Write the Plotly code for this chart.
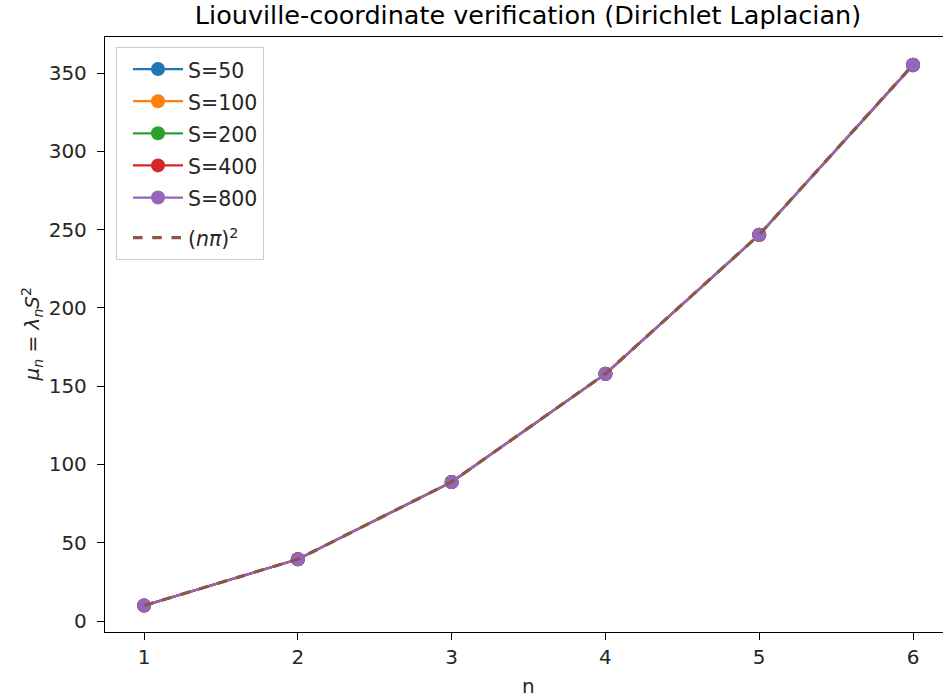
import plotly.graph_objects as go

n_vals = [1, 2, 3, 4, 5, 6]
series_names = ["S=50", "S=100", "S=200", "S=400", "S=800"]
mu_S50 = [9.87, 39.47, 88.80, 157.82, 246.55, 354.85]
mu_S100 = [9.87, 39.48, 88.82, 157.88, 246.68, 355.18]
mu_S200 = [9.87, 39.48, 88.83, 157.90, 246.72, 355.27]
mu_S400 = [9.87, 39.48, 88.83, 157.91, 246.73, 355.30]
mu_S800 = [9.87, 39.48, 88.83, 157.91, 246.74, 355.30]
exact_label = "(<i>nπ</i>)<sup>2</sup>"
exact_vals = [9.87, 39.48, 88.83, 157.91, 246.74, 355.31]
y_ticks = [0, 50, 100, 150, 200, 250, 300, 350]

colors = ["#1f77b4", "#ff7f0e", "#2ca02c", "#d62728", "#9467bd"]
exact_color = "#8c564b"


def lg(txt):
    return "<span style='font-size:20.5px'>" + txt + "</span>"


fig = go.Figure()
for name, vals, c in zip(series_names, [mu_S50, mu_S100, mu_S200, mu_S400, mu_S800], colors):
    fig.add_trace(go.Scatter(x=n_vals, y=vals, mode="lines+markers", name=lg(name),
                             legendgroup="s",
                             line=dict(color=c, width=2.2),
                             marker=dict(color=c, size=14)))
fig.add_trace(go.Scatter(x=n_vals, y=exact_vals, mode="lines", name=lg(exact_label),
                         legendgroup="e",
                         line=dict(color=exact_color, width=3.2, dash="dash")))

font = "DejaVu Sans"
fig.update_layout(
    width=943, height=698,
    margin=dict(l=105, r=0, t=37, b=66),
    paper_bgcolor="white", plot_bgcolor="white",
    font=dict(family=font, size=20, color="#262626"),
    title=dict(text="Liouville-coordinate verification (Dirichlet Laplacian)",
               x=528/943, xanchor="center", y=1-15/698, yanchor="middle",
               font=dict(size=25.5, color="black")),
    showlegend=True,
    legend=dict(x=(116-105)/838, y=1-(47-37)/595, xanchor="left", yanchor="top",
                bgcolor="rgba(255,255,255,0.8)", bordercolor="#cccccc", borderwidth=1,
                font=dict(size=22.4, color="#262626"), itemwidth=50, indentation=11,
                tracegroupgap=8),
    annotations=[
        dict(text="<i>μ<sub>n</sub></i> = <i>λ<sub>n</sub>S</i><sup>2</sup>", textangle=-90,
             xref="paper", yref="paper", x=-73/838, y=0.5, xanchor="center", yanchor="middle",
             showarrow=False, font=dict(size=20, color="#262626")),
        dict(text="n", xref="paper", yref="paper", x=(528-105)/838, y=-54/595,
             xanchor="center", yanchor="middle", showarrow=False,
             font=dict(size=20, color="#262626")),
    ],
)
fig.update_xaxes(range=[0.746, 6.195], tickvals=n_vals, ticktext=[str(v) for v in n_vals],
                 showgrid=False, zeroline=False, showline=True, linecolor="black", linewidth=1.3,
                 mirror=True, ticks="outside", ticklen=7, tickwidth=1.3, tickcolor="black",
                 automargin=False, tickfont=dict(size=20, color="#262626"))
fig.update_yaxes(range=[-7.0, 373.0], tickvals=y_ticks,
                 showgrid=False, zeroline=False, showline=True, linecolor="black", linewidth=1.3,
                 mirror=False, ticks="outside", ticklen=7, tickwidth=1.3, tickcolor="black",
                 ticklabelstandoff=6,
                 automargin=False, tickfont=dict(size=20, color="#262626"))

fig.write_html("out.html", config={"displayModeBar": False},
               post_script="document.body.style.margin='0';")
